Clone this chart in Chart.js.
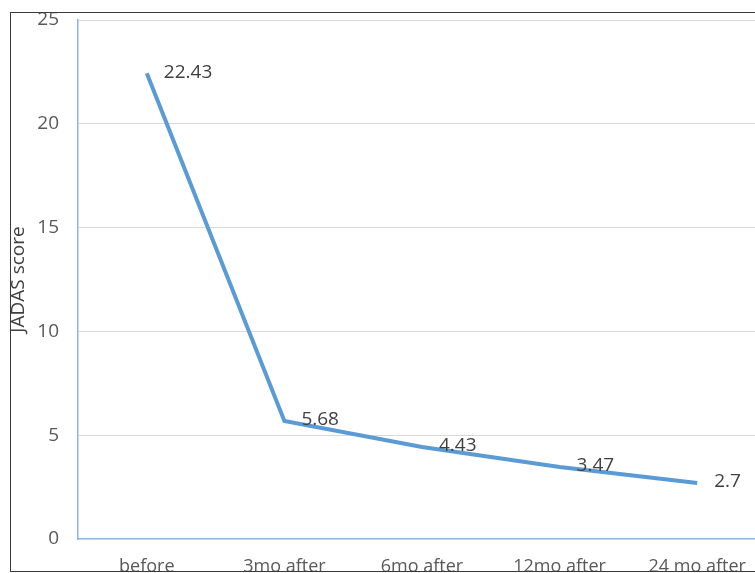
<!DOCTYPE html>
<html>
<head>
<meta charset="utf-8">
<script src="https://cdn.jsdelivr.net/npm/chart.js@4.4.1/dist/chart.umd.min.js"></script>
<style>
  html, body { margin: 0; padding: 0; background: #fff; overflow: hidden; width: 755px; height: 573px; }
  #wrap { position: absolute; left: 0; top: 0; width: 766px; height: 573px; }
  #frame { position: absolute; left: 10px; top: 12px; width: 900px; height: 558px; border: 1px solid #3a3a3a; pointer-events: none; }
  #below { position: absolute; left: 0; top: 572px; width: 755px; height: 1px; background: #fff; }
</style>
</head>
<body>
<div id="wrap"><canvas id="c" width="766" height="573"></canvas></div>
<div id="below"></div>
<div id="frame"></div>
<script>
// Mean JADAS score at each follow-up visit
const visits = ['before', '3mo after', '6mo after', '12mo after', '24 mo after'];
const jadas = [22.43, 5.68, 4.43, 3.47, 2.7];
const yTicks = [0, 5, 10, 15, 20, 25];

const FONT = "'Open Sans', 'Noto Sans', sans-serif";

// Value labels written just to the right of each point
const valueLabels = {
  id: 'valueLabels',
  afterDatasetsDraw(chart) {
    const ctx = chart.ctx;
    const meta = chart.getDatasetMeta(0);
    ctx.save();
    ctx.font = '19px ' + FONT;
    ctx.fillStyle = '#404040';
    ctx.textAlign = 'left';
    ctx.textBaseline = 'middle';
    meta.data.forEach((pt, i) => {
      ctx.fillText(String(jadas[i]), pt.x + 17, pt.y - 1);
    });
    ctx.restore();
  }
};

new Chart(document.getElementById('c'), {
  type: 'line',
  data: {
    labels: visits,
    datasets: [{
      data: jadas,
      borderColor: '#5B9BD5',
      borderWidth: 4,
      pointRadius: 0,
      tension: 0,
      fill: false
    }]
  },
  options: {
    responsive: false,
    animation: false,
    layout: { padding: { top: 20, right: 0, left: 0, bottom: 0 } },
    plugins: { legend: { display: false }, tooltip: { enabled: false } },
    scales: {
      x: {
        offset: true,
        grid: { display: false, drawTicks: false },
        border: { color: '#8DB3E2', width: 1.5 },
        ticks: { color: '#595959', font: { family: FONT, size: 18 }, padding: 17, maxRotation: 0, autoSkip: false },
        afterFit(scale) { scale.height = 34; }
      },
      y: {
        min: 0,
        max: 25,
        afterBuildTicks(scale) { scale.ticks = yTicks.map(v => ({ value: v })); },
        grid: {
          color: c => (c.tick && c.tick.value === 0) ? 'rgba(0,0,0,0)' : '#D9D9D9',
          lineWidth: 1,
          drawTicks: false
        },
        border: { color: '#8DB3E2', width: 1.5 },
        ticks: { color: '#595959', font: { family: FONT, size: 19 }, padding: 19 },
        title: {
          display: true,
          text: 'JADAS score',
          color: '#404040',
          font: { family: FONT, size: 19 },
          padding: { top: 7, bottom: 0 }
        },
        afterFit(scale) {
          scale.width = 78;
          scale.paddingTop = 0;
          scale.paddingBottom = 0;
        }
      }
    }
  },
  plugins: [valueLabels]
});
</script>
</body>
</html>
